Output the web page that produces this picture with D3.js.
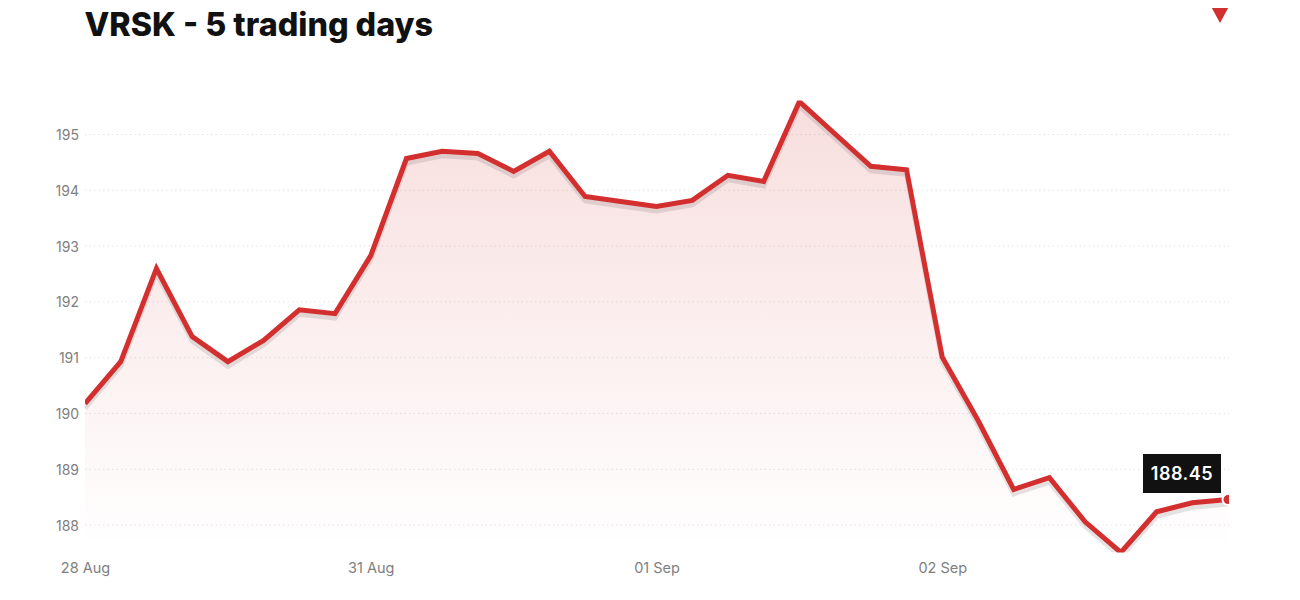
<!DOCTYPE html>
<html>
<head>
<meta charset="utf-8">
<script src="https://cdn.jsdelivr.net/npm/d3@7"></script>
<style>
  html, body { margin: 0; padding: 0; background: #fff; }
  svg { display: block; font-family: Inter, sans-serif; }
</style>
</head>
<body>
<script>
const titleText = 'VRSK - 5 trading days';
const prices = [
  190.17, 190.92, 192.59, 191.37, 190.92, 191.30, 191.85, 191.78, 192.82,
  194.56, 194.69, 194.65, 194.33, 194.69, 193.88, 193.79, 193.70, 193.81,
  194.26, 194.15, 195.58, 195.00, 194.42, 194.36, 191.00, 189.87, 188.63,
  188.84, 188.05, 187.50, 188.23, 188.39, 188.45
];
const yTicks = [188, 189, 190, 191, 192, 193, 194, 195];
const xTickIndex = [0, 8, 16, 24];
const xTickLabels = ['28 Aug', '31 Aug', '01 Sep', '02 Sep'];
const lastLabel = '188.45';

const width = 1300;
const height = 600;
const plotLeft = 85;
const plotRight = 1228;
const plotTop = 100.5;
const plotBottom = 552.5;

const svg = d3.select('body').append('svg')
  .attr('width', width)
  .attr('height', height)
  .attr('viewBox', `0 0 ${width} ${height}`);

const x = d3.scaleLinear().domain([0, prices.length - 1]).range([plotLeft, plotRight]);
const y = d3.scaleLinear().domain([187.5, 195.6]).range([plotBottom, plotTop]);

const defs = svg.append('defs');
const grad = defs.append('linearGradient')
  .attr('id', 'fade')
  .attr('x1', 0).attr('y1', 0).attr('x2', 0).attr('y2', 1)
  .attr('gradientUnits', 'objectBoundingBox');
grad.append('stop').attr('offset', '0%').attr('stop-color', '#d32f2f').attr('stop-opacity', 0.16);
grad.append('stop').attr('offset', '100%').attr('stop-color', '#d32f2f').attr('stop-opacity', 0);

defs.append('clipPath').attr('id', 'plot')
  .append('rect')
  .attr('x', plotLeft).attr('y', plotTop)
  .attr('width', plotRight - plotLeft + 1).attr('height', plotBottom - plotTop);

// title
svg.append('text')
  .attr('x', 84.5).attr('y', 36)
  .attr('font-size', 32.3).attr('font-weight', 800)
  .attr('fill', '#111')
  .text(titleText);

// down marker, top right
svg.append('path')
  .attr('d', d3.symbol().type(d3.symbolTriangle).size(115))
  .attr('transform', 'translate(1220,13) rotate(180) scale(1,1.06)')
  .attr('fill', '#d32f2f');

// y axis and dotted grid
const yAxis = svg.append('g')
  .attr('transform', `translate(${plotLeft},0)`)
  .call(d3.axisLeft(y).tickValues(yTicks).tickSize(0).tickPadding(6).tickFormat(d3.format('d')));
yAxis.select('.domain').remove();
yAxis.selectAll('text')
  .attr('font-family', 'Inter, sans-serif')
  .attr('font-size', 14).attr('fill', '#808080')
  .attr('dy', '0.4em');
yAxis.selectAll('.tick line')
  .attr('x2', plotRight - plotLeft + 1)
  .attr('stroke', '#e4e4e4')
  .attr('stroke-dasharray', '1.5 3');

// x axis
const xAxis = svg.append('g')
  .attr('transform', `translate(0,${plotBottom + 7})`)
  .call(d3.axisBottom(x).tickValues(xTickIndex).tickSize(0).tickPadding(3)
    .tickFormat((d, i) => xTickLabels[i]));
xAxis.select('.domain').remove();
xAxis.selectAll('text')
  .attr('font-family', 'Inter, sans-serif')
  .attr('font-size', 14.5).attr('fill', '#808080');

const plot = svg.append('g').attr('clip-path', 'url(#plot)');

const area = d3.area().x((d, i) => x(i)).y0(plotBottom - 12).y1(d => y(d));
const line = d3.line().x((d, i) => x(i)).y(d => y(d));

plot.append('path')
  .attr('d', area(prices))
  .attr('fill', 'url(#fade)');

// grey shadow under the line
plot.append('path')
  .attr('d', line(prices))
  .attr('transform', 'translate(0,4.5)')
  .attr('fill', 'none')
  .attr('stroke', '#000')
  .attr('stroke-opacity', 0.1)
  .attr('stroke-width', 5);

plot.append('path')
  .attr('d', line(prices))
  .attr('fill', 'none')
  .attr('stroke', '#d32f2f')
  .attr('stroke-width', 5);

// last value dot
const lastI = prices.length - 1;
plot.append('circle')
  .attr('cx', x(lastI)).attr('cy', y(prices[lastI]))
  .attr('r', 5.5)
  .attr('fill', '#d32f2f')
  .attr('stroke', '#fff')
  .attr('stroke-width', 2);

// last value label
const lw = 78, lh = 39;
svg.append('rect')
  .attr('x', x(lastI) - 85).attr('y', y(prices[lastI]) - 45.5)
  .attr('width', lw).attr('height', lh)
  .attr('fill', '#111');
svg.append('text')
  .attr('x', x(lastI) - 85 + lw / 2).attr('y', y(prices[lastI]) - 45.5 + lh / 2 + 6.5)
  .attr('text-anchor', 'middle')
  .attr('font-size', 18).attr('font-weight', 600)
  .attr('letter-spacing', 0.5)
  .attr('fill', '#fff')
  .text(lastLabel);
</script>
</body>
</html>
